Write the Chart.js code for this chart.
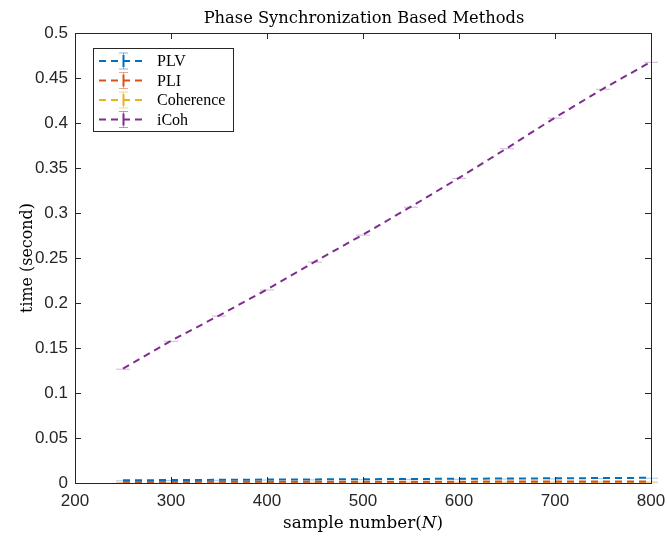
<!DOCTYPE html>
<html lang="en">
<head>
<meta charset="UTF-8">
<title>Phase Synchronization Based Methods</title>
<script src="https://cdn.jsdelivr.net/npm/chart.js@4/dist/chart.umd.min.js"></script>
<style>
  html, body { margin: 0; padding: 0; background: #fff; }
  #wrap { width: 667px; height: 539px; }
</style>
</head>
<body>
<div id="wrap"><canvas id="timeChart" width="667" height="539"></canvas></div>
<script>
// sample numbers (N)
const sampleN = [250, 300, 350, 400, 450, 500, 550, 600, 650, 700, 750, 800];
// run time in seconds
const plvTime = [0.0030, 0.0033, 0.0035, 0.0038, 0.0040, 0.0042, 0.0045, 0.0047, 0.0050, 0.0052, 0.0055, 0.0058];
const pliTime = [0.0012, 0.0012, 0.0013, 0.0013, 0.0014, 0.0014, 0.0015, 0.0015, 0.0016, 0.0016, 0.0017, 0.0017];
const cohTime = [0.0003, 0.0003, 0.0003, 0.0004, 0.0004, 0.0004, 0.0004, 0.0005, 0.0005, 0.0005, 0.0005, 0.0006];
const icohTime = [0.127, 0.158, 0.186, 0.215, 0.246, 0.276, 0.307, 0.339, 0.372, 0.406, 0.438, 0.468];

const seriesNames = ['PLV', 'PLI', 'Coherence', 'iCoh'];
const seriesColors = ['#0072BD', '#D95319', '#EDB120', '#7E2F8E'];
const xTickValues = [200, 300, 400, 500, 600, 700, 800];
const yTickValues = [0, 0.05, 0.1, 0.15, 0.2, 0.25, 0.3, 0.35, 0.4, 0.45, 0.5];
const yTickLabels = ['0', '0.05', '0.1', '0.15', '0.2', '0.25', '0.3', '0.35', '0.4', '0.45', '0.5'];

const axisColor = '#262626';
const serif = '"DejaVu Serif", "Liberation Serif", serif';
const legendSerif = '"Liberation Serif", "DejaVu Serif", serif';
const sans = '"Liberation Sans", Arial, sans-serif';

function toPoints(ys) {
    return sampleN.map((x, i) => ({ x: x, y: ys[i] }));
}

function tint(hex, a) {
    const n = parseInt(hex.slice(1), 16);
    return `rgba(${n >> 16}, ${(n >> 8) & 255}, ${n & 255}, ${a})`;
}

// pick a font size so the text gets about the wanted width
function fitFont(ctx, text, family, width, style) {
    ctx.font = (style || '') + ' 20px ' + family;
    const s = 20 * width / ctx.measureText(text).width;
    return s;
}

const allSeries = [plvTime, pliTime, cohTime, icohTime];
const datasets = allSeries.map((ys, i) => ({
    label: seriesNames[i],
    data: toPoints(ys),
    borderColor: seriesColors[i],
    borderWidth: 2,
    borderDash: [7, 5],
    pointRadius: 0,
    fill: false,
    tension: 0,
    order: i === 2 ? 5 : 4 - i
}));

// MATLAB-ish frame: box, inward ticks, error bar caps, legend, titles
const matlabLook = {
    id: 'matlabLook',
    afterDatasetsDraw(chart) {
        const ctx = chart.ctx;
        const a = chart.chartArea;
        const xs = chart.scales.x, ys = chart.scales.y;
        ctx.save();

        // tiny error bar caps at every sample
        chart.data.datasets.forEach((ds, i) => {
            ctx.strokeStyle = tint(seriesColors[i], 0.35);
            ctx.lineWidth = 1;
            ds.data.forEach(p => {
                const px = xs.getPixelForValue(p.x), py = ys.getPixelForValue(p.y);
                ctx.beginPath();
                ctx.moveTo(px - 7, py + 0.5);
                ctx.lineTo(px + 7, py + 0.5);
                ctx.stroke();
            });
        });

        // box
        ctx.strokeStyle = axisColor;
        ctx.lineWidth = 1;
        ctx.strokeRect(Math.round(a.left) + 0.5, Math.round(a.top) + 0.5,
            Math.round(a.right - a.left), Math.round(a.bottom - a.top));

        // inward ticks
        const tl = 6;
        ctx.beginPath();
        xTickValues.forEach(v => {
            const px = Math.round(xs.getPixelForValue(v)) + 0.5;
            ctx.moveTo(px, a.bottom); ctx.lineTo(px, a.bottom - tl);
            ctx.moveTo(px, a.top); ctx.lineTo(px, a.top + tl);
        });
        yTickValues.forEach(v => {
            const py = Math.round(ys.getPixelForValue(v)) + 0.5;
            ctx.moveTo(a.left, py); ctx.lineTo(a.left + tl, py);
            ctx.moveTo(a.right, py); ctx.lineTo(a.right - tl, py);
        });
        ctx.stroke();

        // legend
        const lx = 93, ly = 48, lw = 140, lh = 83;
        ctx.fillStyle = '#fff';
        ctx.fillRect(lx, ly, lw, lh);
        ctx.strokeStyle = axisColor;
        ctx.strokeRect(lx + 0.5, ly + 0.5, lw, lh);
        ctx.font = '16px ' + legendSerif;
        ctx.textBaseline = 'middle';
        seriesNames.forEach((name, i) => {
            const y = ly + 13 + i * 19.5;
            ctx.strokeStyle = seriesColors[i];
            ctx.lineWidth = 2;
            ctx.setLineDash([7, 5]);
            ctx.beginPath();
            ctx.moveTo(99, y); ctx.lineTo(146, y);
            ctx.stroke();
            ctx.setLineDash([]);
            ctx.lineWidth = 1;
            ctx.strokeStyle = tint(seriesColors[i], 0.5);
            ctx.beginPath();
            ctx.moveTo(123.5, y - 8); ctx.lineTo(123.5, y + 8);
            ctx.moveTo(119, y - 8); ctx.lineTo(128, y - 8);
            ctx.moveTo(119, y + 8); ctx.lineTo(128, y + 8);
            ctx.stroke();
            ctx.strokeStyle = seriesColors[i];
            ctx.lineWidth = 2;
            ctx.beginPath();
            ctx.moveTo(123.5, y - 6); ctx.lineTo(123.5, y + 6);
            ctx.stroke();
            ctx.fillStyle = '#000';
            ctx.textAlign = 'left';
            ctx.fillText(name, 157, y + 1);
        });

        // title
        ctx.fillStyle = '#000';
        ctx.textBaseline = 'alphabetic';
        ctx.textAlign = 'center';
        const tTxt = 'Phase Synchronization Based Methods';
        ctx.font = fitFont(ctx, tTxt, serif, 322).toFixed(1) + 'px ' + serif;
        ctx.fillText(tTxt, 364, 23);

        // x label with italic N
        const p1 = 'sample number(', p3 = ')';
        const xs0 = fitFont(ctx, p1 + 'N' + p3, serif, 160).toFixed(1);
        ctx.font = xs0 + 'px ' + serif;
        const w1 = ctx.measureText(p1).width, w3 = ctx.measureText(p3).width;
        ctx.font = 'italic ' + xs0 + 'px ' + serif;
        const w2 = ctx.measureText('N').width;
        let x0 = 363 - (w1 + w2 + w3) / 2;
        const yl = 528;
        ctx.textAlign = 'left';
        ctx.font = xs0 + 'px ' + serif;
        ctx.fillText(p1, x0, yl);
        ctx.font = 'italic ' + xs0 + 'px ' + serif;
        ctx.fillText('N', x0 + w1, yl);
        ctx.font = xs0 + 'px ' + serif;
        ctx.fillText(p3, x0 + w1 + w2, yl);

        // y label
        const yTxt = 'time (second)';
        ctx.font = fitFont(ctx, yTxt, serif, 110).toFixed(1) + 'px ' + serif;
        ctx.translate(32, (a.top + a.bottom) / 2);
        ctx.rotate(-Math.PI / 2);
        ctx.textAlign = 'center';
        ctx.fillText(yTxt, 0, 0);
        ctx.restore();
    }
};

new Chart(document.getElementById('timeChart'), {
    type: 'line',
    data: { datasets: datasets },
    options: {
        responsive: false,
        animation: false,
        layout: { padding: { left: 0, right: 16, top: 33, bottom: 0 } },
        plugins: { legend: { display: false }, tooltip: { enabled: false } },
        scales: {
            x: {
                type: 'linear',
                min: 200,
                max: 800,
                afterBuildTicks: s => { s.ticks = xTickValues.map(v => ({ value: v })); },
                afterFit: s => { s.height = 56; s.paddingRight = 0; s.paddingLeft = 0; },
                grid: { display: false, drawTicks: false },
                border: { display: false },
                ticks: { color: '#262626', font: { family: sans, size: 17 }, padding: 8, maxRotation: 0 }
            },
            y: {
                type: 'linear',
                min: 0,
                max: 0.5,
                afterBuildTicks: s => { s.ticks = yTickValues.map(v => ({ value: v })); },
                afterFit: s => { s.width = 75; },
                grid: { display: false, drawTicks: false },
                border: { display: false },
                ticks: {
                    color: '#262626',
                    font: { family: sans, size: 17 },
                    padding: 7,
                    callback: (v, i) => yTickLabels[i]
                }
            }
        }
    },
    plugins: [matlabLook]
});
</script>
</body>
</html>
